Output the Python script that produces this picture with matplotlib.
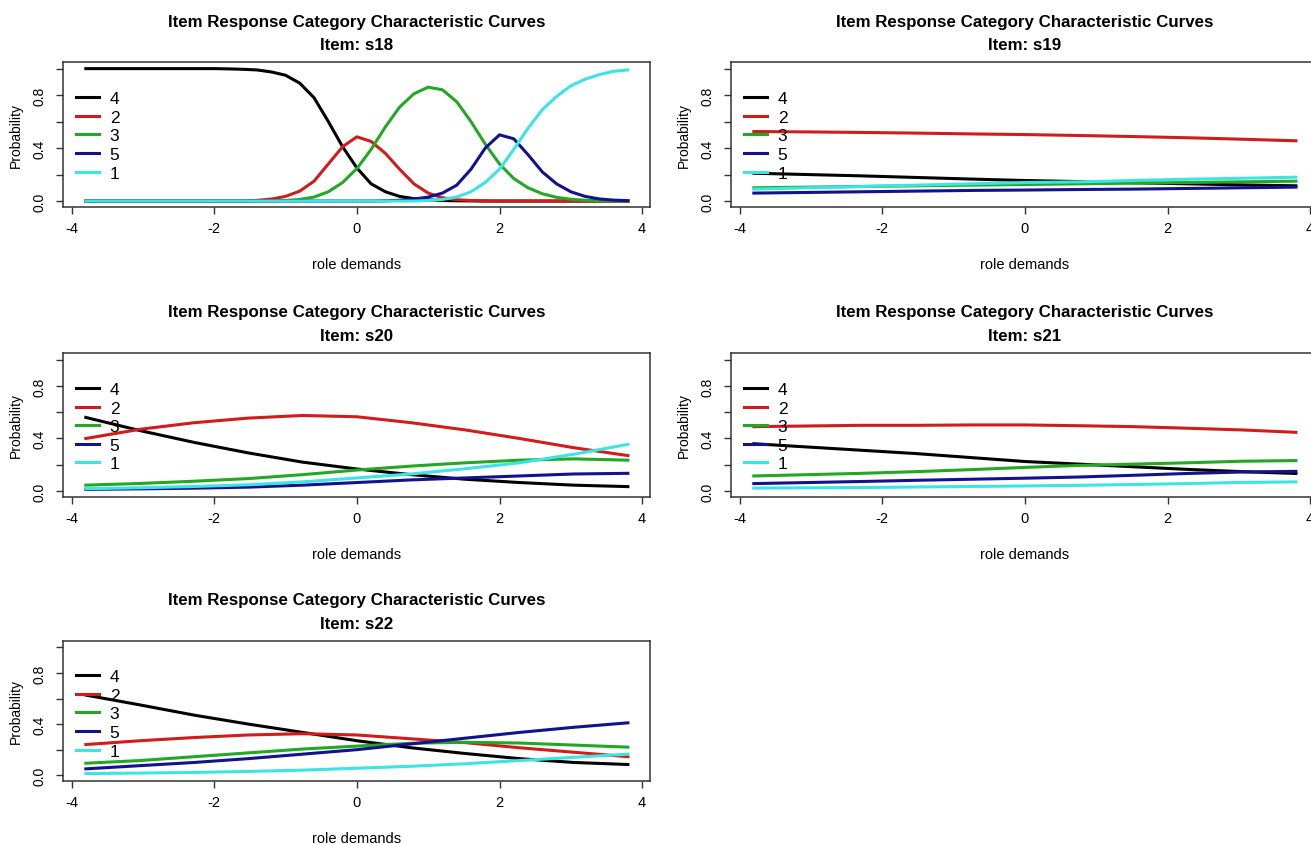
import matplotlib
matplotlib.use("Agg")
import matplotlib.pyplot as plt
from matplotlib.lines import Line2D

# ---------------- data ----------------
theta_s18 = [-3.8, -3.6, -3.4, -3.2, -3.0, -2.8, -2.6, -2.4, -2.2, -2.0,
             -1.8, -1.6, -1.4, -1.2, -1.0, -0.8, -0.6, -0.4, -0.2, 0.0,
             0.2, 0.4, 0.6, 0.8, 1.0, 1.2, 1.4, 1.6, 1.8, 2.0,
             2.2, 2.4, 2.6, 2.8, 3.0, 3.2, 3.4, 3.6, 3.8]

s18_cat4 = [1.0, 1.0, 1.0, 1.0, 1.0, 1.0, 1.0, 1.0, 1.0, 1.0,
            0.998, 0.995, 0.99, 0.975, 0.95, 0.89, 0.78, 0.60, 0.41, 0.25,
            0.13, 0.07, 0.035, 0.018, 0.009, 0.004, 0.002, 0.001, 0.0, 0.0,
            0.0, 0.0, 0.0, 0.0, 0.0, 0.0, 0.0, 0.0, 0.0]
s18_cat2 = [0.0, 0.0, 0.0, 0.0, 0.0, 0.0, 0.0, 0.0, 0.0, 0.0,
            0.0, 0.0, 0.005, 0.015, 0.035, 0.075, 0.15, 0.28, 0.41, 0.485,
            0.45, 0.36, 0.24, 0.13, 0.06, 0.025, 0.01, 0.004, 0.001, 0.0,
            0.0, 0.0, 0.0, 0.0, 0.0, 0.0, 0.0, 0.0, 0.0]
s18_cat3 = [0.0, 0.0, 0.0, 0.0, 0.0, 0.0, 0.0, 0.0, 0.0, 0.0,
            0.0, 0.0, 0.0, 0.0, 0.004, 0.012, 0.03, 0.07, 0.14, 0.245,
            0.39, 0.56, 0.71, 0.81, 0.86, 0.84, 0.75, 0.60, 0.43, 0.28,
            0.17, 0.10, 0.055, 0.028, 0.013, 0.006, 0.002, 0.0, 0.0]
s18_cat5 = [0.0, 0.0, 0.0, 0.0, 0.0, 0.0, 0.0, 0.0, 0.0, 0.0,
            0.0, 0.0, 0.0, 0.0, 0.0, 0.0, 0.0, 0.0, 0.0, 0.0,
            0.0, 0.002, 0.006, 0.015, 0.03, 0.06, 0.12, 0.24, 0.40, 0.50,
            0.47, 0.35, 0.22, 0.13, 0.07, 0.035, 0.016, 0.007, 0.003]
s18_cat1 = [0.0, 0.0, 0.0, 0.0, 0.0, 0.0, 0.0, 0.0, 0.0, 0.0,
            0.0, 0.0, 0.0, 0.0, 0.0, 0.0, 0.0, 0.0, 0.0, 0.0,
            0.0, 0.0, 0.0, 0.0, 0.004, 0.012, 0.03, 0.07, 0.14, 0.24,
            0.39, 0.55, 0.69, 0.79, 0.87, 0.92, 0.955, 0.98, 0.99]

theta = [-3.8, -3.04, -2.28, -1.52, -0.76, 0.0, 0.76, 1.52, 2.28, 3.04, 3.8]

s19_cat4 = [0.21, 0.20, 0.19, 0.178, 0.166, 0.155, 0.147, 0.138, 0.130, 0.122, 0.115]
s19_cat2 = [0.525, 0.522, 0.518, 0.513, 0.507, 0.502, 0.495, 0.487, 0.478, 0.467, 0.455]
s19_cat3 = [0.10, 0.105, 0.11, 0.115, 0.12, 0.125, 0.13, 0.135, 0.14, 0.145, 0.15]
s19_cat5 = [0.06, 0.065, 0.07, 0.075, 0.08, 0.083, 0.087, 0.09, 0.095, 0.10, 0.105]
s19_cat1 = [0.09, 0.10, 0.11, 0.12, 0.13, 0.14, 0.145, 0.155, 0.165, 0.172, 0.18]

s20_cat4 = [0.56, 0.46, 0.37, 0.29, 0.22, 0.168, 0.125, 0.09, 0.065, 0.045, 0.034]
s20_cat2 = [0.40, 0.47, 0.52, 0.555, 0.575, 0.565, 0.52, 0.465, 0.40, 0.33, 0.27]
s20_cat3 = [0.045, 0.058, 0.075, 0.095, 0.125, 0.16, 0.19, 0.215, 0.235, 0.245, 0.235]
s20_cat5 = [0.013, 0.017, 0.022, 0.03, 0.045, 0.065, 0.085, 0.10, 0.115, 0.13, 0.135]
s20_cat1 = [0.018, 0.025, 0.035, 0.048, 0.07, 0.10, 0.13, 0.17, 0.215, 0.28, 0.355]

s21_cat4 = [0.36, 0.335, 0.31, 0.285, 0.255, 0.225, 0.205, 0.185, 0.165, 0.148, 0.134]
s21_cat2 = [0.49, 0.495, 0.50, 0.50, 0.503, 0.503, 0.497, 0.49, 0.478, 0.465, 0.447]
s21_cat3 = [0.115, 0.125, 0.135, 0.148, 0.163, 0.18, 0.195, 0.205, 0.215, 0.227, 0.232]
s21_cat5 = [0.057, 0.065, 0.073, 0.082, 0.09, 0.098, 0.107, 0.12, 0.134, 0.145, 0.15]
s21_cat1 = [0.023, 0.025, 0.027, 0.031, 0.035, 0.039, 0.044, 0.05, 0.057, 0.066, 0.07]

s22_cat4 = [0.627, 0.55, 0.47, 0.40, 0.335, 0.27, 0.215, 0.17, 0.13, 0.10, 0.084]
s22_cat2 = [0.24, 0.27, 0.295, 0.315, 0.325, 0.315, 0.285, 0.255, 0.215, 0.18, 0.145]
s22_cat3 = [0.094, 0.115, 0.145, 0.175, 0.205, 0.228, 0.25, 0.258, 0.252, 0.236, 0.22]
s22_cat5 = [0.05, 0.075, 0.10, 0.13, 0.165, 0.20, 0.245, 0.29, 0.335, 0.375, 0.41]
s22_cat1 = [0.013, 0.017, 0.022, 0.03, 0.04, 0.055, 0.07, 0.09, 0.115, 0.14, 0.165]

categories = ["4", "2", "3", "5", "1"]
items = ["s18", "s19", "s20", "s21", "s22"]
title_main = "Item Response Category Characteristic Curves"
x_label = "role demands"
y_label = "Probability"
x_ticks = [-4, -2, 0, 2, 4]
y_ticks = [0.0, 0.2, 0.4, 0.6, 0.8, 1.0]
y_tick_labels = ["0.0", "", "0.4", "", "0.8", ""]

panels = {
    "s18": (theta_s18, [s18_cat4, s18_cat2, s18_cat3, s18_cat5, s18_cat1]),
    "s19": (theta, [s19_cat4, s19_cat2, s19_cat3, s19_cat5, s19_cat1]),
    "s20": (theta, [s20_cat4, s20_cat2, s20_cat3, s20_cat5, s20_cat1]),
    "s21": (theta, [s21_cat4, s21_cat2, s21_cat3, s21_cat5, s21_cat1]),
    "s22": (theta, [s22_cat4, s22_cat2, s22_cat3, s22_cat5, s22_cat1]),
}

# ---------------- style ----------------
colors = ["#000000", "#D01C1C", "#22A822", "#12128F", "#3CE4E4"]
FONT = ["Liberation Sans", "DejaVu Sans"]
W, H = 1311, 845
fig = plt.figure(figsize=(W / 100, H / 100), dpi=100)

col_left = [63, 731]
row_top_bottom = [(63, 208), (354, 498), (642, 782)]
axw = 587
positions = [(0, 0), (1, 0), (0, 1), (1, 1), (0, 2)]

for item, (c, r) in zip(items, positions):
    top, bot = row_top_bottom[r]
    left = col_left[c]
    ax = fig.add_axes([left / W, 1 - bot / H, axw / W, (bot - top) / H])
    xs, series = panels[item]
    handles = []
    for lab, col, ys in zip(categories, colors, series):
        ax.plot(xs, ys, color=col, lw=2.2, solid_joinstyle="round")
        handles.append(Line2D([], [], color=col, lw=2.2))
    ax.set_xlim(-4.12, 4.11)
    ax.set_ylim(-0.045, 1.05)
    ax.set_xticks(x_ticks)
    ax.set_xticklabels([str(t) for t in x_ticks], family=FONT, fontsize=10.5)
    ax.set_yticks(y_ticks)
    ax.set_yticklabels(y_tick_labels, family=FONT, fontsize=10, rotation=90,
                       va="center")
    ax.tick_params(axis="x", length=5, width=1, pad=5, color="#333333")
    ax.tick_params(axis="y", length=5, width=1, pad=7, color="#333333")
    for s in ax.spines.values():
        s.set_linewidth(1.1)
        s.set_color("#333333")
    ax.set_xlabel(x_label, family=FONT, fontsize=10.5, labelpad=16)
    ax.set_ylabel(y_label, family=FONT, fontsize=10, labelpad=7)
    ax.set_title(title_main + "\nItem: " + item, family=FONT,
                 fontweight="bold", fontsize=12.2, pad=9, linespacing=1.75)
    ax.legend(handles, categories, loc="upper left",
              bbox_to_anchor=(0.022, 0.80), frameon=False, borderpad=0,
              borderaxespad=0, handlelength=1.35, handletextpad=0.6,
              labelspacing=0.2, prop={"family": FONT, "size": 12.5})

fig.savefig("out.png", dpi=100)
